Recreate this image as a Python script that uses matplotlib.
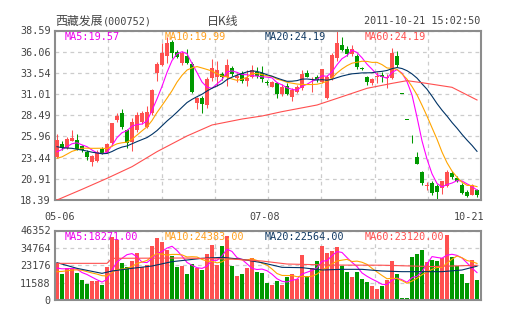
import numpy as np
import matplotlib.pyplot as plt

W, H = 505, 330

# daily bars 2011-05-06 .. 2011-10-21
opens = [23.55, 25.03, 24.55, 25.46, 25.54, 24.8, 24.15, 22.88, 23.0, 24.47,
         24.15, 25.14, 27.9, 28.8, 26.73, 25.34, 26.73, 27.73, 27.13, 28.72,
         33.5, 34.53, 35.6, 37.2, 36.07, 34.68, 35.55, 34.6, 29.9, 30.6,
         29.71, 32.9, 33.0, 33.35, 33.0, 34.1, 32.9, 33.5, 32.6, 33.1,
         33.7, 33.5, 32.45, 31.9, 32.29, 31.02, 32.0, 30.7, 31.3, 31.7,
         33.5, 32.7, 33.1, 32.5, 30.5, 32.9, 35.3, 36.9, 36.4, 35.8,
         35.55, 34.1, 33.1, 32.3, 33.05, 33.3, 32.9, 32.9, 35.5, 31.05,
         27.95, 25.16, 23.55, 21.77, 20.0, 20.38, 20.0, 19.8, 20.0, 21.55,
         21.0, 20.2, 19.4, 19.0, 19.6]
highs = [26.26, 25.42, 25.9, 26.73, 26.25, 25.0, 24.4, 23.8, 24.3, 24.7,
         25.2, 27.55, 28.75, 29.2, 26.9, 28.2, 28.9, 29.0, 29.6, 31.6,
         34.8, 37.1, 37.78, 37.5, 36.3, 36.1, 36.4, 34.8, 30.7, 30.8,
         33.1, 35.2, 35.0, 33.6, 35.2, 34.4, 33.5, 33.8, 33.9, 34.5,
         34.2, 34.36, 32.7, 32.6, 32.4, 32.2, 32.3, 31.7, 32.1, 33.9,
         33.9, 33.1, 33.3, 34.0, 33.3, 35.9, 38.59, 37.85, 36.8, 36.9,
         35.8, 34.2, 33.2, 32.9, 33.6, 33.6, 33.4, 36.5, 36.1, 31.05,
         27.95, 26.1, 24.15, 21.9, 20.5, 20.6, 20.3, 20.7, 22.0, 21.8,
         21.3, 20.4, 19.6, 20.3, 19.7]
lows = [23.4, 24.35, 24.5, 25.4, 24.3, 24.1, 23.2, 22.44, 22.9, 23.9,
        24.0, 24.8, 27.7, 26.9, 24.6, 24.2, 26.5, 27.5, 27.0, 28.5,
        32.55, 34.3, 34.7, 35.3, 35.3, 34.5, 34.6, 31.2, 29.2, 28.72,
        29.4, 32.6, 31.95, 32.7, 31.95, 33.2, 32.5, 32.3, 31.95, 32.9,
        32.9, 32.5, 32.1, 31.8, 30.5, 30.8, 30.9, 30.2, 31.1, 31.5,
        33.0, 31.3, 32.4, 32.3, 30.4, 32.7, 35.0, 36.1, 35.5, 35.5,
        34.0, 33.9, 32.1, 32.1, 32.3, 32.4, 31.7, 32.8, 34.2, 31.05,
        27.95, 25.16, 22.64, 20.18, 19.6, 19.0, 18.39, 19.1, 19.9, 20.9,
        20.5, 19.1, 18.8, 18.95, 18.7]
closes = [25.54, 24.55, 25.66, 25.82, 24.47, 24.3, 23.47, 23.67, 24.15, 23.99,
          25.02, 27.53, 28.44, 27.05, 25.22, 27.73, 28.48, 28.72, 28.9, 31.5,
          34.6, 35.93, 37.06, 35.95, 35.47, 35.87, 34.76, 31.28, 30.5, 29.83,
          32.81, 34.1, 33.9, 33.0, 34.5, 33.4, 33.2, 32.6, 32.9, 33.9,
          33.2, 32.8, 32.37, 32.49, 31.02, 31.9, 31.02, 31.5, 31.9, 33.4,
          33.1, 32.8, 32.7, 33.96, 33.1, 35.7, 37.1, 36.3, 35.8, 36.4,
          34.2, 34.0, 32.5, 32.8, 33.15, 33.0, 33.1, 35.9, 34.5, 31.05,
          27.95, 25.16, 22.64, 20.38, 20.2, 19.18, 19.4, 20.6, 21.77, 21.1,
          20.6, 19.2, 18.9, 20.2, 18.95]
volumes = [24470, 17340, 21570, 21300, 18000, 13340, 10800, 12680, 12680, 10200,
           22230, 42000, 39800, 24900, 22230, 25800, 31300, 22000, 23500, 36300,
           41500, 38450, 33350, 29570, 22230, 22900, 17140, 23810, 21570, 20010,
           30460, 36690, 23350, 36240, 42690, 22900, 16230, 17140, 21570, 27790,
           18900, 17790, 11560, 10000, 12680, 10230, 15560, 17140, 13790, 30010,
           16010, 21570, 25900, 36020, 31560, 32900, 35130, 22900, 18900, 15560,
           18900, 14010, 11780, 9560, 7340, 9560, 13340, 26010, 17140, 1560,
           1110, 28900, 30460, 33350, 25570, 26500, 26000, 28000, 43500, 28475,
           22800, 17300, 11600, 26600, 13055]

# sessions before 05-06, used only to start the moving averages
prior_closes = [26.9, 26.6, 26.4, 26.7, 26.2, 25.9, 26.3, 26.0, 25.9, 24.3,
                22.9, 22.4, 22.5, 22.6, 22.5, 23.3, 23.9, 24.1, 23.9]
prior_volumes = [15800, 17200, 16300, 16900, 16300, 19800, 21500, 20200, 20530]

# longer averages as shown on the chart
ma60_idx = [0, 5, 10, 15, 20, 26, 31, 37, 41, 45, 52, 56, 62, 67, 70, 73, 79, 84]
ma60_val = [18.39, 19.66, 20.97, 22.36, 24.15, 26.02, 27.33, 28.04, 28.4, 28.92,
            29.71, 30.5, 31.7, 32.29, 32.61, 32.37, 31.82, 30.31]
vol_ma20_idx = [0, 4, 9, 11, 15, 19, 23, 29, 33, 37, 41, 45, 49, 53, 57, 61,
                65, 69, 73, 77, 81, 84]
vol_ma20_val = [24900, 21120, 17780, 19340, 21120, 22670, 25560, 27790, 28450,
                27120, 24900, 21790, 21560, 20010, 20450, 20450, 19340, 18900,
                18900, 18900, 20010, 22564]
vol_ma60_idx = [0, 10, 11, 25, 35, 41, 46, 55, 65, 75, 84]
vol_ma60_val = [24450, 24450, 27800, 28000, 27300, 26000, 24000, 23300, 23200,
                22300, 23120]

price_ticks = [18.39, 20.91, 23.44, 25.96, 28.49, 31.01, 33.54, 36.06, 38.59]
vol_ticks = [0, 11588, 23176, 34764, 46352]
date_labels = ['05-06', '07-08', '10-21']

price_legend = ['MA5:19.57', 'MA10:19.99', 'MA20:24.19', 'MA60:24.19']
vol_legend = ['MA5:18271.00', 'MA10:24383.00', 'MA20:22564.00', 'MA60:23120.00']

UP, DOWN = '#ff5050', '#009900'
MA_COLORS = ['#ff00ff', '#ffa500', '#003366', '#ff4f4f']
GRID = '#cccccc'
TEXT = '#444444'
MONO = 'DejaVu Sans Mono'
CJK = 'Noto Sans CJK SC'


def moving_avg(prior, values, n):
    s = np.array(prior + values, dtype=float)
    m = np.convolve(s, np.ones(n) / n, mode='valid')
    return m[-len(values):]


def px_box(left, top, right, bottom):
    return [left / W, 1 - bottom / H, (right - left) / W, (bottom - top) / H]


def fig_xy(x, y):
    return x / W, 1 - y / H


o = np.array(opens)
hi = np.array(highs)
lo = np.array(lows)
c = np.array(closes)
v = np.array(volumes)
n = len(c)
x = np.arange(n)
prev = np.concatenate([[prior_closes[-1]], c[:-1]])
rising = (c > o) | ((c == o) & (c >= prev))
colors = np.where(rising, UP, DOWN)

ma5 = moving_avg(prior_closes, closes, 5)
ma10 = moving_avg(prior_closes, closes, 10)
ma20 = moving_avg(prior_closes, closes, 20)
vma5 = moving_avg(prior_volumes, volumes, 5)
vma10 = moving_avg(prior_volumes, volumes, 10)

fig = plt.figure(figsize=(W / 100, H / 100), dpi=100, facecolor='white')
ax = fig.add_axes(px_box(55, 30.5, 481, 200))
axv = fig.add_axes(px_box(55, 230.5, 481, 300))

xmin, xmax = -0.4, n - 0.2
vgrid = [xmin + k * (xmax - xmin) / 8 for k in range(1, 8)]

for a in (ax, axv):
    a.set_xlim(xmin, xmax)
    a.set_xticks(vgrid)
    a.set_xticklabels([])
    a.set_axisbelow(True)
    a.grid(True, color=GRID, lw=0.9, ls=(0, (3, 3)))
    a.tick_params(length=0, pad=3, labelsize=7.3, labelcolor=TEXT)
    for sp in a.spines.values():
        sp.set_color('#8c8c8c')
        sp.set_linewidth(1.5)
    for t in a.get_yticklabels():
        t.set_family(MONO)

# candles
body_lo = np.minimum(o, c)
body_h = np.maximum(np.abs(c - o), 0.07)
ax.vlines(x, lo, hi, colors=colors, lw=0.75, zorder=2)
ax.bar(x, body_h, bottom=body_lo, width=0.8, color=colors, lw=0, zorder=3)

ax.plot(x, ma5, color=MA_COLORS[0], lw=0.8, zorder=4)
ax.plot(x, ma10, color=MA_COLORS[1], lw=0.8, zorder=4)
ax.plot(x, ma20, color=MA_COLORS[2], lw=0.8, zorder=4)
ax.plot(ma60_idx, ma60_val, color=MA_COLORS[3], lw=0.8, zorder=4)

ax.set_ylim(price_ticks[0], price_ticks[-1])
ax.set_yticks(price_ticks)
ax.set_yticklabels([f'{t:.2f}' for t in price_ticks], family=MONO)

# volume
axv.bar(x, v, width=0.8, color=colors, lw=0, zorder=2)
axv.plot(x, vma5, color=MA_COLORS[0], lw=0.8, zorder=4)
axv.plot(x, vma10, color=MA_COLORS[1], lw=0.8, zorder=4)
axv.plot(vol_ma20_idx, vol_ma20_val, color=MA_COLORS[2], lw=0.8, zorder=4)
axv.plot(vol_ma60_idx, vol_ma60_val, color=MA_COLORS[3], lw=0.8, zorder=4)
axv.set_ylim(vol_ticks[0], vol_ticks[-1])
axv.set_yticks(vol_ticks)
axv.set_yticklabels([str(t) for t in vol_ticks], family=MONO)

# legends inside the panels
legend_colors = ['#ee00ee', '#ffa020', '#123a63', '#ff4f4f']
for k in range(4):
    fig.text(*fig_xy(65 + 100 * k, 37), price_legend[k], color=legend_colors[k],
             family=MONO, fontsize=7.3, va='center', ha='left', zorder=10)
    fig.text(*fig_xy(65 + 100 * k, 237), vol_legend[k], color=legend_colors[k],
             family=MONO, fontsize=7.3, va='center', ha='left', zorder=10)

# header
fig.text(*fig_xy(55, 21), '西藏发展', family=CJK, fontsize=8.6, color=TEXT, va='center')
fig.text(*fig_xy(103, 21.5), '(000752)', family=MONO, fontsize=7.3, color=TEXT, va='center')
fig.text(*fig_xy(207, 21), '日K线', family=CJK, fontsize=8.6, color=TEXT, va='center')
fig.text(*fig_xy(480, 21.5), '2011-10-21 15:02:50', family=MONO, fontsize=7.3,
         color=TEXT, va='center', ha='right')

# dates between the panels
for lab, xc in zip(date_labels, [59.5, 265, 469]):
    fig.text(*fig_xy(xc, 216.5), lab, family=MONO, fontsize=7.3, color=TEXT,
             va='center', ha='center')

fig.savefig('out.png', dpi=100, facecolor='white')
